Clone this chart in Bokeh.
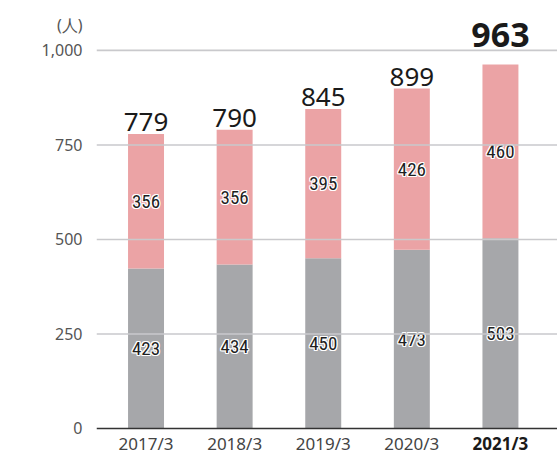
from bokeh.plotting import figure
from bokeh.models import ColumnDataSource, FixedTicker, Range1d, LinearAxis, Span
from bokeh.core.properties import value
from bokeh.embed import file_html
from bokeh.resources import INLINE

categories = ["2017/3", "2018/3", "2019/3", "2020/3", "2021/3"]
lower = [423, 434, 450, 473, 503]
upper = [356, 356, 395, 426, 460]
totals = [779, 790, 845, 899, 963]
y_ticks = [0, 250, 500, 750, 1000]
y_tick_labels = ["0", "250", "500", "750", "1,000"]
unit_label = "(人)"
UNIT_LABEL_Y = 1066  # where the unit caption sits on the value axis

GRAY = "#a6a7aa"
PINK = "#eba3a5"
FONT = "Noto Sans"
NARROW = "'Liberation Sans Narrow', 'Roboto Condensed', Roboto"

xs = list(range(len(categories)))
src = ColumnDataSource(dict(
    x=xs,
    top1=lower,
    top2=[a + b for a, b in zip(lower, upper)],
    mid1=[a / 2 for a in lower],
    mid2=[a + b / 2 for a, b in zip(lower, upper)],
    lt=[str(v) for v in lower], ut=[str(v) for v in upper],
))

p = figure(width=557, height=459, output_backend="svg", toolbar_location=None,
           x_range=Range1d(-0.559, 4.644), y_range=Range1d(-82, 1132),
           min_border_left=96, min_border_right=0, min_border_top=0,
           min_border_bottom=0, x_axis_location=None, y_axis_location=None)
p.outline_line_color = None
p.background_fill_color = "white"
p.border_fill_color = "white"
p.xgrid.visible = False
p.ygrid.visible = False

for t in y_ticks[1:]:
    p.add_layout(Span(location=t, dimension="width", line_color="#c9c9cc", line_width=1.6))

p.vbar(x="x", width=0.406, bottom=0, top="top1", source=src, fill_color=GRAY, line_color=None)
p.vbar(x="x", width=0.406, bottom="top1", top="top2", source=src, fill_color=PINK, line_color=None)

p.add_layout(Span(location=0, dimension="width", line_color="#333333", line_width=1.5))

inner = dict(text_font=value(NARROW), text_font_size="19px",
             text_align="center", text_baseline="middle")
for ycol, tcol in (("mid1", "lt"), ("mid2", "ut")):
    for dx, dy in ((-1, 0), (1, 0), (0, -1), (0, 1), (-1, -1), (1, 1), (-1, 1), (1, -1)):
        p.text(x="x", y=ycol, text=tcol, source=src, text_color="white",
               x_offset=dx, y_offset=dy, **inner)
    p.text(x="x", y=ycol, text=tcol, source=src, text_color="#1e1e1e", **inner)

src_a = ColumnDataSource(dict(x=xs[:-1], y=totals[:-1], t=[str(v) for v in totals[:-1]]))
src_b = ColumnDataSource(dict(x=xs[-1:], y=totals[-1:], t=[str(v) for v in totals[-1:]]))
p.text(x="x", y="y", text="t", source=src_a, text_font=value(FONT), text_font_size="26px",
       text_color="#1a1a1a", text_align="center", text_baseline="bottom", y_offset=-3)
p.text(x="x", y="y", text="t", source=src_b, text_font=value(FONT), text_font_size="34px",
       text_font_style="bold", text_color="#1a1a1a", text_align="center",
       text_baseline="bottom", y_offset=-17)

# category labels (last one bold)
src_c = ColumnDataSource(dict(x=xs[:-1], y=[0] * (len(xs) - 1), t=categories[:-1]))
src_d = ColumnDataSource(dict(x=xs[-1:], y=[0], t=categories[-1:]))
p.text(x="x", y="y", text="t", source=src_c, text_font=value(FONT), text_font_size="17px",
       text_color="#444444", text_align="center", text_baseline="middle", y_offset=15)
p.text(x="x", y="y", text="t", source=src_d, text_font=value(FONT), text_font_size="17px",
       text_font_style="bold", text_color="#1a1a1a", text_align="center",
       text_baseline="middle", y_offset=15)

overrides = {t: l for t, l in zip(y_ticks, y_tick_labels)}
overrides[UNIT_LABEL_Y] = unit_label
yax = LinearAxis(ticker=FixedTicker(ticks=y_ticks + [UNIT_LABEL_Y]),
                 major_label_overrides=overrides)
yax.axis_line_color = None
yax.major_tick_line_color = None
yax.minor_tick_line_color = None
yax.major_label_text_font = FONT
yax.major_label_text_font_size = "16px"
yax.major_label_text_color = "#555555"
yax.major_label_standoff = 8
p.add_layout(yax, "left")

open("out.html", "w").write(file_html(p, INLINE))
